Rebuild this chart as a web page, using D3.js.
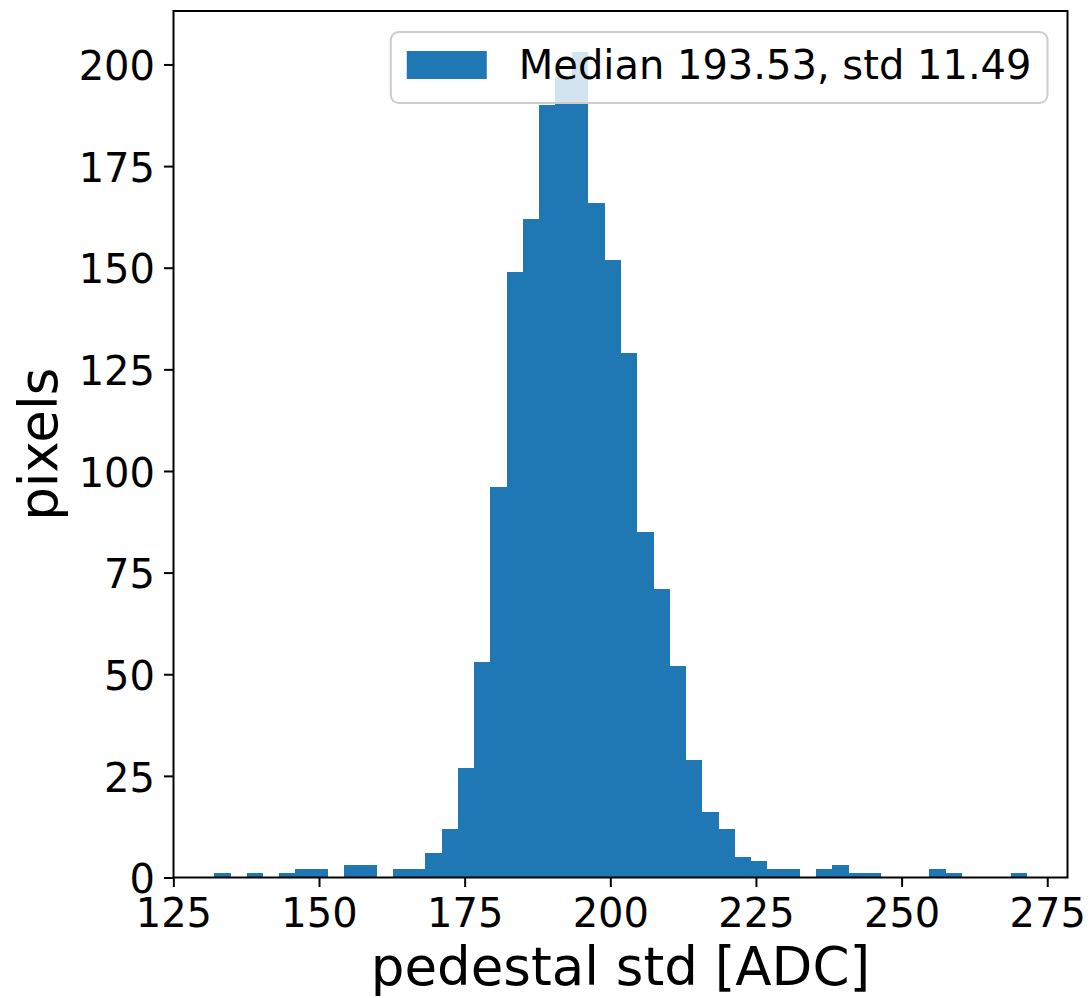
<!DOCTYPE html>
<html>
<head>
<meta charset="utf-8">
<script src="https://cdn.jsdelivr.net/npm/d3@7"></script>
<style>
  body { margin: 0; background: #fff; }
  svg { display: block; font-family: 'DejaVu Sans', sans-serif; }
</style>
</head>
<body>
<svg id="chart" width="1092" height="998"></svg>
<script>
// histogram of pedestal std, 50 equal bins between the data min and max
const binLow = 132.0;
const binHigh = 271.5;
const counts = [
  1, 0, 1, 0, 1, 2, 2, 0, 3, 3,
  0, 2, 2, 6, 12, 27, 53, 96, 149, 162,
  190, 197, 203, 166, 152, 129, 85, 71, 52, 29,
  16, 12, 5, 4, 2, 2, 0, 2, 3, 1,
  1, 0, 0, 0, 2, 1, 0, 0, 0, 1
];
const xTicks = [125, 150, 175, 200, 225, 250, 275];
const yTicks = [0, 25, 50, 75, 100, 125, 150, 175, 200];
const legendLabel = 'Median 193.53, std 11.49';
const xLabel = 'pedestal std [ADC]';
const yLabel = 'pixels';

const color = '#1f77b4';
const plot = { left: 173.5, right: 1067.5, top: 11, bottom: 877.5 };
const fontSize = 40;
const labelSize = 53;

const svg = d3.select('#chart');

const nBins = counts.length;
const binWidth = (binHigh - binLow) / nBins;
const bins = counts.map((c, i) => ({
  x0: binLow + i * binWidth,
  x1: binLow + (i + 1) * binWidth,
  count: c
}));

// matplotlib style 5% margins
const xPad = (binHigh - binLow) * 0.05;
const x = d3.scaleLinear()
  .domain([binLow - xPad, binHigh + xPad])
  .range([plot.left, plot.right]);

const y = d3.scaleLinear()
  .domain([0, d3.max(counts) * 1.05])
  .range([plot.bottom, plot.top]);

// bars
svg.append('g')
  .attr('shape-rendering', 'crispEdges')
  .selectAll('rect')
  .data(bins.filter(d => d.count > 0))
  .join('rect')
  .attr('x', d => x(d.x0))
  .attr('y', d => y(d.count))
  .attr('width', d => x(d.x1) - x(d.x0) + 0.5)
  .attr('height', d => y(0) - y(d.count))
  .attr('fill', color);

// axes
const xAxis = svg.append('g')
  .attr('transform', `translate(0,${plot.bottom})`)
  .call(d3.axisBottom(x).tickValues(xTicks).tickSize(9.5).tickSizeOuter(0));

xAxis.select('.domain').remove();
xAxis.selectAll('line').attr('stroke', '#000').attr('stroke-width', 2);
xAxis.selectAll('text')
  .attr('y', 49.5)
  .attr('dy', 0)
  .attr('fill', '#000')
  .style('font-size', `${fontSize}px`)
  .style('font-family', "'DejaVu Sans', sans-serif");

const yAxis = svg.append('g')
  .attr('transform', `translate(${plot.left},0)`)
  .call(d3.axisLeft(y).tickValues(yTicks).tickSize(9.5).tickSizeOuter(0));

yAxis.select('.domain').remove();
yAxis.selectAll('line').attr('stroke', '#000').attr('stroke-width', 2);
yAxis.selectAll('text')
  .attr('x', -18.5)
  .attr('dy', '0.38em')
  .attr('fill', '#000')
  .style('font-size', `${fontSize}px`)
  .style('font-family', "'DejaVu Sans', sans-serif");

// frame
svg.append('rect')
  .attr('x', plot.left)
  .attr('y', plot.top)
  .attr('width', plot.right - plot.left)
  .attr('height', plot.bottom - plot.top)
  .attr('fill', 'none')
  .attr('stroke', '#000')
  .attr('stroke-width', 2);

// axis labels
svg.append('text')
  .attr('x', (plot.left + plot.right) / 2)
  .attr('y', 985)
  .attr('text-anchor', 'middle')
  .style('font-size', `${labelSize}px`)
  .text(xLabel);

svg.append('text')
  .attr('transform', `translate(57,${(plot.top + plot.bottom) / 2}) rotate(-90)`)
  .attr('text-anchor', 'middle')
  .style('font-size', `${labelSize}px`)
  .text(yLabel);

// legend, upper right
const pad = 0.5 * fontSize;
const borderPad = 0.4 * fontSize;
const handleLen = 2 * fontSize;
const handleGap = 0.8 * fontSize;

const legend = svg.append('g');
const legendBox = legend.append('rect');
const legendText = legend.append('text')
  .style('font-size', `${fontSize}px`)
  .text(legendLabel);

const textLen = legendText.node().getComputedTextLength();
const boxW = borderPad * 2 + handleLen + handleGap + textLen;
const boxH = 71;
const boxX = plot.right - pad - boxW;
const boxY = plot.top + pad + 1;

legendBox
  .attr('x', boxX)
  .attr('y', boxY)
  .attr('width', boxW)
  .attr('height', boxH)
  .attr('rx', 8)
  .attr('fill', '#fff')
  .attr('fill-opacity', 0.8)
  .attr('stroke', '#cccccc')
  .attr('stroke-width', 2);

legend.append('rect')
  .attr('x', boxX + borderPad)
  .attr('y', boxY + 19)
  .attr('width', handleLen)
  .attr('height', 0.7 * fontSize)
  .attr('fill', color);

legendText
  .attr('x', boxX + borderPad + handleLen + handleGap)
  .attr('y', boxY + 47);
</script>
</body>
</html>
